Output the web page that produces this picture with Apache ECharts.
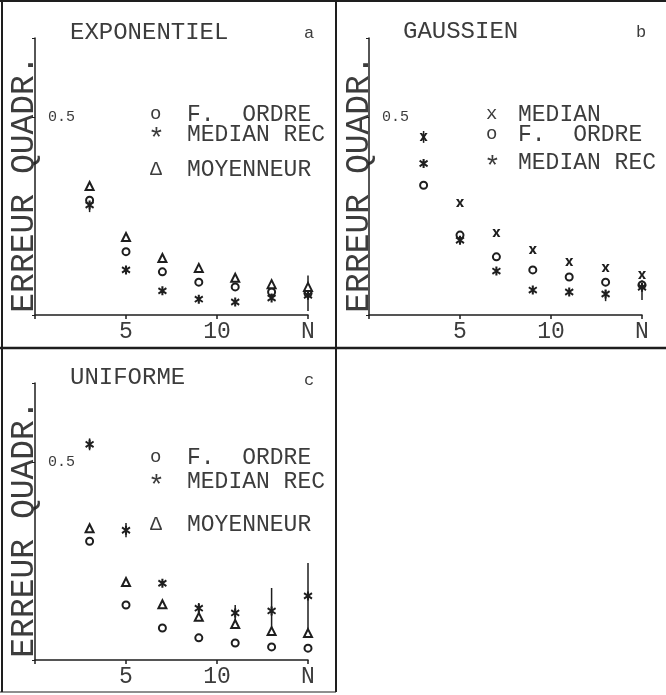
<!DOCTYPE html>
<html>
<head>
<meta charset="utf-8">
<script src="https://cdn.jsdelivr.net/npm/echarts@6/dist/echarts.min.js"></script>
<style>
  html, body { margin: 0; padding: 0; background: #fff; }
  #chart { width: 666px; height: 695px; }
</style>
</head>
<body>
<div id="chart"></div>
<script>
// window sizes N
const nValues = [3, 5, 7, 9, 11, 13, 15]

// a: EXPONENTIEL
const expOrdre = [0.29, 0.16, 0.109, 0.083, 0.071, 0.058, 0.055]
const expMedRec = [0.278, 0.114, 0.061, 0.04, 0.033, 0.043, 0.05]
const expMoy = [0.326, 0.197, 0.144, 0.119, 0.094, 0.078, 0.071]
const expErr = [[3, 0.26, 0.3], [15, 0.01, 0.1]]

// b: GAUSSIEN
const gauMedian = [0.45, 0.283, 0.207, 0.164, 0.134, 0.119, 0.101]
const gauOrdre = [0.328, 0.202, 0.147, 0.114, 0.096, 0.083, 0.076]
const gauMedRec = [0.383, 0.189, 0.111, 0.063, 0.058, 0.053, 0.07]
const gauErr = [[3, 0.435, 0.465], [13, 0.035, 0.063], [15, 0.038, 0.088]]

// c: UNIFORME
const uniOrdre = [0.3, 0.139, 0.081, 0.056, 0.043, 0.033, 0.03]
const uniMedRec = [0.545, 0.328, 0.194, 0.131, 0.119, 0.124, 0.162]
const uniMoy = [0.333, 0.197, 0.141, 0.109, 0.091, 0.073, 0.068]
const uniErr = [[3, 0.53, 0.56], [5, 0.31, 0.346], [9, 0.1, 0.144], [11, 0.096, 0.139], [13, 0.068, 0.182], [15, 0.063, 0.245]]

const xTicks = { 5: '5', 10: '10', 15: 'N' }
const yTicks = { 0.5: '0.5' }
const yTitle = 'ERREUR QUADR.'

const ink = '#1e1e1e'
const soft = '#3c3c3c'
const font = 'Liberation Mono'

const starPath = 'path://M3.9,0H6.1V10H3.9Z M0.2,2.8L1.3,0.9L9.8,7.2L8.7,9.1Z M8.7,0.9L9.8,2.8L1.3,9.1L0.2,7.2Z'
const crossPath = 'path://M0,0H3.2L5,3.4L6.8,0H10L6.6,5L10,10H6.8L5,6.6L3.2,10H0L3.4,5Z'

const pair = vals => vals.map((v, i) => [nValues[i], v])

const grids = [
  { left: 35, top: 38, width: 273, height: 277 },
  { left: 369, top: 38, width: 273, height: 277 },
  { left: 35, top: 383, width: 273, height: 277 }
]

const xAxes = grids.map((g, i) => ({
  gridIndex: i,
  type: 'value',
  min: 0,
  max: 15,
  interval: 5,
  splitLine: { show: false },
  axisLine: { lineStyle: { color: ink, width: 1.5 } },
  axisTick: { length: 4, lineStyle: { color: ink, width: 1.5 } },
  axisLabel: {
    color: soft,
    fontFamily: font,
    fontSize: 23,
    margin: 5,
    formatter: v => xTicks[v] || ''
  }
}))

const yAxes = grids.map((g, i) => ({
  gridIndex: i,
  type: 'value',
  min: 0,
  max: 0.7,
  interval: 0.5,
  splitLine: { show: false },
  axisLine: { onZero: false, lineStyle: { color: ink, width: 1.5 } },
  axisTick: { length: 3, lineStyle: { color: ink } },
  axisLabel: {
    inside: true,
    margin: 13,
    color: soft,
    fontFamily: font,
    fontSize: 15,
    formatter: v => yTicks[v] || ''
  }
}))

function markers(name, vals, idx, symbol, size) {
  const empty = symbol.indexOf('empty') === 0
  return {
    name,
    type: 'scatter',
    xAxisIndex: idx,
    yAxisIndex: idx,
    symbol,
    symbolSize: size,
    data: pair(vals),
    itemStyle: empty
      ? { color: ink, borderWidth: 2.6, opacity: 1 }
      : { color: ink, opacity: 1 },
    z: 3
  }
}

function errBars(data, idx) {
  return {
    type: 'custom',
    xAxisIndex: idx,
    yAxisIndex: idx,
    data,
    renderItem: (params, api) => {
      const lo = api.coord([api.value(0), api.value(1)])
      const hi = api.coord([api.value(0), api.value(2)])
      return {
        type: 'line',
        shape: { x1: lo[0], y1: lo[1], x2: hi[0], y2: hi[1] },
        style: { stroke: ink, lineWidth: 1.5 }
      }
    },
    z: 2
  }
}

const series = [
  errBars(expErr, 0),
  markers('F. ORDRE', expOrdre, 0, 'emptyCircle', 7),
  markers('MEDIAN REC', expMedRec, 0, starPath, 9),
  markers('MOYENNEUR', expMoy, 0, 'emptyTriangle', 8),

  errBars(gauErr, 1),
  markers('MEDIAN', gauMedian, 1, crossPath, 8),
  markers('F. ORDRE', gauOrdre, 1, 'emptyCircle', 7),
  markers('MEDIAN REC', gauMedRec, 1, starPath, 9),

  errBars(uniErr, 2),
  markers('F. ORDRE', uniOrdre, 2, 'emptyCircle', 7),
  markers('MEDIAN REC', uniMedRec, 2, starPath, 9),
  markers('MOYENNEUR', uniMoy, 2, 'emptyTriangle', 8)
]

function txt(x, y, text, size) {
  return {
    type: 'text',
    x,
    y,
    style: { text, fill: soft, font: size + 'px "' + font + '"', textVerticalAlign: 'middle' }
  }
}

// vertical axis title, reads bottom to top
function vtxt(x, y) {
  return {
    type: 'text',
    x,
    y,
    rotation: Math.PI / 2,
    style: {
      text: yTitle,
      fill: soft,
      font: '33px "' + font + '"',
      textAlign: 'center',
      textVerticalAlign: 'middle'
    }
  }
}

function rule(x1, y1, x2, y2, w) {
  return {
    type: 'line',
    shape: { x1, y1, x2, y2 },
    style: { stroke: ink, lineWidth: w }
  }
}

const graphic = [
  rule(0, 1, 666, 1, 2),
  rule(2, 0, 2, 692, 2),
  rule(336, 0, 336, 692, 2),
  rule(0, 348, 666, 348, 2.5),
  rule(0, 692, 336, 692, 1),

  vtxt(24, 184),
  vtxt(359, 184),
  vtxt(24, 529),

  txt(70, 33, 'EXPONENTIEL', 24),
  txt(304, 33, 'a', 17),
  txt(150, 114, 'o', 19),
  txt(187, 115, 'F.  ORDRE', 23),
  txt(148, 140, '*', 28),
  txt(187, 135, 'MEDIAN REC', 23),
  txt(150, 170, 'Δ', 20),
  txt(187, 170, 'MOYENNEUR', 23),

  txt(403, 32, 'GAUSSIEN', 24),
  txt(636, 32, 'b', 17),
  txt(486, 114, 'x', 19),
  txt(518, 115, 'MEDIAN', 23),
  txt(486, 134, 'o', 19),
  txt(518, 135, 'F.  ORDRE', 23),
  txt(484, 168, '*', 28),
  txt(518, 163, 'MEDIAN REC', 23),

  txt(70, 378, 'UNIFORME', 24),
  txt(304, 380, 'c', 17),
  txt(150, 457, 'o', 19),
  txt(187, 458, 'F.  ORDRE', 23),
  txt(148, 487, '*', 28),
  txt(187, 482, 'MEDIAN REC', 23),
  txt(150, 525, 'Δ', 20),
  txt(187, 525, 'MOYENNEUR', 23)
]

const chart = echarts.init(document.getElementById('chart'))
chart.setOption({
  backgroundColor: '#fff',
  animation: false,
  grid: grids,
  xAxis: xAxes,
  yAxis: yAxes,
  series,
  graphic
})
</script>
</body>
</html>
